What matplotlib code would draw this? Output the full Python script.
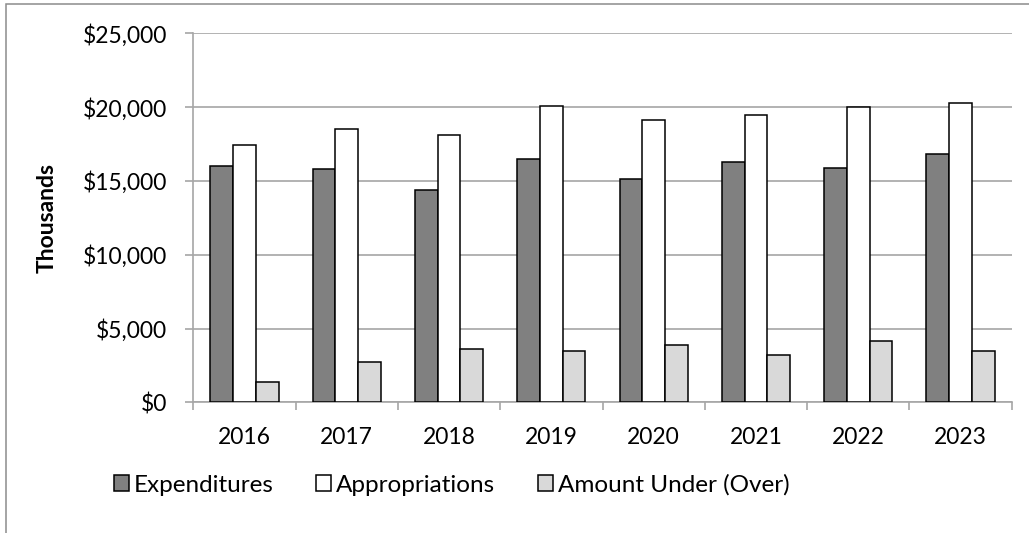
import numpy as np
import matplotlib
matplotlib.use('Agg')
from matplotlib import pyplot as plt
from matplotlib.patches import Rectangle
from matplotlib.ticker import FuncFormatter, FixedLocator

# data (thousands of dollars)
years = ['2016', '2017', '2018', '2019', '2020', '2021', '2022', '2023']
expenditures = [16000, 15800, 14400, 16500, 15150, 16250, 15850, 16800]
appropriations = [17400, 18500, 18100, 20050, 19100, 19450, 20000, 20250]
amount_under = [1400, 2700, 3600, 3500, 3900, 3200, 4150, 3450]

plt.rcParams['font.family'] = ['Lato', 'DejaVu Sans']
fs = 16.5

fig = plt.figure(figsize=(10.29, 5.33), dpi=100)
ax = fig.add_axes([193.3/1029, 1-402.3/533, (1011.7-193.3)/1029, (402.3-33.3)/533])

# outer chart frame (cut off at right/bottom like the original)
fig.patches.append(Rectangle((6/1029, -0.1), 1.2, 1-4/533+0.1, transform=fig.transFigure,
                             fill=False, edgecolor='#8c8c8c', linewidth=1.1))

x = np.arange(len(years))
w = 0.222
ax.bar(x - w, expenditures, w, color='#808080', edgecolor='black', linewidth=1.1, label='Expenditures', zorder=3)
ax.bar(x, appropriations, w, color='white', edgecolor='black', linewidth=1.1, label='Appropriations', zorder=3)
ax.bar(x + w, amount_under, w, color='#d9d9d9', edgecolor='black', linewidth=1.1, label='Amount Under (Over)', zorder=3)

ax.set_xlim(-0.5, len(years) - 0.5)
ax.set_ylim(0, 25000)
ax.set_yticks(np.arange(0, 25001, 5000))
ax.yaxis.set_major_formatter(FuncFormatter(lambda v, p: '${:,.0f}'.format(v)))
ax.grid(axis='y', color='#a6a6a6', linewidth=1.2, zorder=0)

ax.set_xticks(x)
ax.set_xticklabels(years)
ax.xaxis.set_minor_locator(FixedLocator(np.arange(-0.5, len(years), 1.0)))
ax.tick_params(axis='x', which='major', length=0, pad=18, labelsize=fs)
ax.tick_params(axis='x', which='minor', length=6, width=1.2, color='#a6a6a6')
ax.tick_params(axis='y', length=6, width=1.2, color='#a6a6a6', pad=13, labelsize=fs)

for s in ['top', 'right']:
    ax.spines[s].set_visible(False)
for s in ['left', 'bottom']:
    ax.spines[s].set_color('#a6a6a6')
    ax.spines[s].set_linewidth(1.2)

ax.set_ylabel('Thousands', fontsize=fs, fontweight='bold', labelpad=18)

fig.legend(loc='center left', bbox_to_anchor=(104/1029, 1-485/533), ncol=3, frameon=False,
           fontsize=17.5, handlelength=0.62, handleheight=0.62, handletextpad=0.2,
           columnspacing=1.75, borderaxespad=0)

fig.savefig('out.png', dpi=100)
